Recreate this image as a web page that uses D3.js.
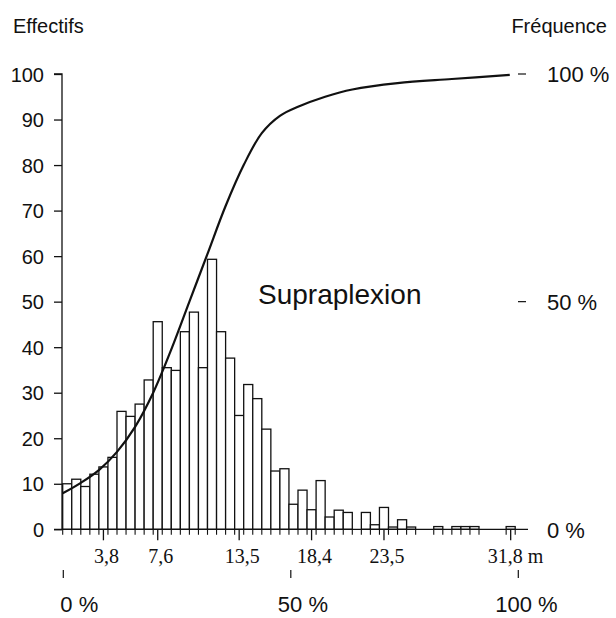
<!DOCTYPE html>
<html><head><meta charset="utf-8">
<script src="https://cdn.jsdelivr.net/npm/d3@7"></script>
<style>body{margin:0;background:#fff}svg{display:block}</style>
</head><body>
<svg id="c" width="616" height="618"></svg>
<script>
// ---- data ----
const counts = [10,11,9.4,12.1,13.7,15.8,25.9,24.8,27.5,32.8,
                45.6,35.5,34.9,43.4,47.7,35.5,59.3,43.4,37.6,25,
                31.8,28.7,22,12.8,13.3,5.5,8.6,4.3,10.7,2.7,
                4.2,3.7,0,3.7,1.0,4.8,0.5,2.1,0.5,0,
                0,0.6,0,0.6,0.6,0.6,0,0,0,0.6];
const yTicks = [0,10,20,30,40,50,60,70,80,90,100];
const freqTicks = [0,50,100];
const freqLabels = ["0 %","50 %","100 %"];
const xTickBins = [4,10,19,27,35,49];
const xTickLabels = ["3,8","7,6","13,5","18,4","23,5","31,8"];
const xUnit = "m";
const curveBin = [0,2,4,6,8,10,12,14,16,18,20,22,24,26,29,32,37,43,49.4];
const curvePct = [7.9,10.2,13.0,17.0,22.5,30.0,39.5,50.0,60.5,71.0,80.0,87.0,90.8,92.8,95.0,96.6,98.0,98.9,99.8];
const title = "Supraplexion";

// ---- scales ----
const svg = d3.select("#c");
const x = d3.scaleLinear().domain([0, counts.length]).range([62.7, 515.2]);
const y = d3.scaleLinear().domain([0, 100]).range([529.3, 74]);
const f = d3.scaleLinear().domain([0, 100]).range([529.3, 74]);
const fb = d3.scaleLinear().domain([0, 100]).range([63.3, 518.3]);
const sans = "'Liberation Sans', Arial, Helvetica, sans-serif";
const serif = "'Liberation Serif', 'Times New Roman', serif";
const ink = "#111";

// bars
const bars = counts.map((v,i)=>({v,i})).filter(d=>d.v>0);
svg.append("g").selectAll("rect").data(bars).join("rect")
  .attr("x", d=>x(d.i)).attr("width", x(1)-x(0))
  .attr("y", d=>y(d.v)).attr("height", d=>y(0)-y(d.v))
  .attr("fill","#fff").attr("stroke",ink).attr("stroke-width",1.3);

// small ticks under bar edges
const edges = new Set();
bars.forEach(d=>{edges.add(d.i); edges.add(d.i+1);});
svg.append("g").selectAll("line").data([...edges]).join("line")
  .attr("x1",d=>x(d)).attr("x2",d=>x(d)).attr("y1",y(0)).attr("y2",y(0)+5.5)
  .attr("stroke",ink).attr("stroke-width",1.1);

// baseline
svg.append("line").attr("x1",54).attr("x2",528).attr("y1",y(0)).attr("y2",y(0))
  .attr("stroke",ink).attr("stroke-width",1.3);

// left axis
const yAxis = d3.axisLeft(y).tickValues(yTicks).tickSize(8).tickPadding(10);
const ga = svg.append("g").attr("transform","translate(62,0)").call(yAxis);
ga.select(".domain").attr("stroke",ink).attr("stroke-width",1.3).attr("d",`M-8,${y(100)}H0V${y(0)}`);
ga.selectAll(".tick line").attr("stroke",ink).attr("stroke-width",1.3);
ga.selectAll(".tick text").attr("font-family",sans).attr("font-size",20).attr("fill",ink).attr("dy","0.36em");

// right frequency axis
const gr = svg.append("g");
gr.selectAll("line").data(freqTicks.filter(d=>d>0)).join("line")
  .attr("x1",518).attr("x2",526).attr("y1",d=>f(d)).attr("y2",d=>f(d))
  .attr("stroke",ink).attr("stroke-width",1.2);
gr.selectAll("text").data(freqTicks).join("text")
  .attr("x",547).attr("y",d=>f(d)).attr("dy","0.38em")
  .attr("font-family",sans).attr("font-size",22).attr("fill",ink)
  .text((d,i)=>freqLabels[i]);

// x labeled ticks
const gx = svg.append("g");
gx.selectAll("line").data(xTickBins).join("line")
  .attr("x1",d=>x(d+0.5)).attr("x2",d=>x(d+0.5)).attr("y1",y(0)).attr("y2",y(0)+11)
  .attr("stroke",ink).attr("stroke-width",1.3);
gx.selectAll("text").data(xTickBins).join("text")
  .attr("x",(d,i)=> i===xTickBins.length-1 ? x(d+0.5)-23 : x(d+0.5)+3)
  .attr("y",563)
  .attr("text-anchor",(d,i)=> i===xTickBins.length-1 ? "start" : "middle")
  .attr("font-family",serif).attr("font-size",20).attr("fill",ink)
  .text((d,i)=> i===xTickBins.length-1 ? xTickLabels[i]+" "+xUnit : xTickLabels[i]);

// bottom frequency axis
const gb = svg.append("g");
gb.selectAll("line").data(freqTicks).join("line")
  .attr("x1",d=>fb(d)).attr("x2",d=>fb(d)).attr("y1",570).attr("y2",578)
  .attr("stroke",ink).attr("stroke-width",1.2);
gb.selectAll("text").data(freqTicks).join("text")
  .attr("x",d=>fb(d)-3-d*0.2).attr("y",612)
  .attr("font-family",sans).attr("font-size",22).attr("fill",ink)
  .text((d,i)=>freqLabels[i]);

// cumulative curve
const pts = curveBin.map((b,i)=>[x(b), f(curvePct[i])]);
svg.append("path").attr("d", d3.line().curve(d3.curveCatmullRom.alpha(0.5))(pts))
  .attr("fill","none").attr("stroke",ink).attr("stroke-width",2.2);

// titles
svg.append("text").attr("x",13).attr("y",32.5).attr("font-family",sans).attr("font-size",20).attr("fill",ink).text("Effectifs");
svg.append("text").attr("x",607).attr("y",32.5).attr("text-anchor","end").attr("font-family",sans).attr("font-size",20).attr("fill",ink).text("Fréquence");
svg.append("text").attr("x",258).attr("y",304).attr("font-family",sans).attr("font-size",28).attr("fill",ink).text(title);
</script>
</body></html>
